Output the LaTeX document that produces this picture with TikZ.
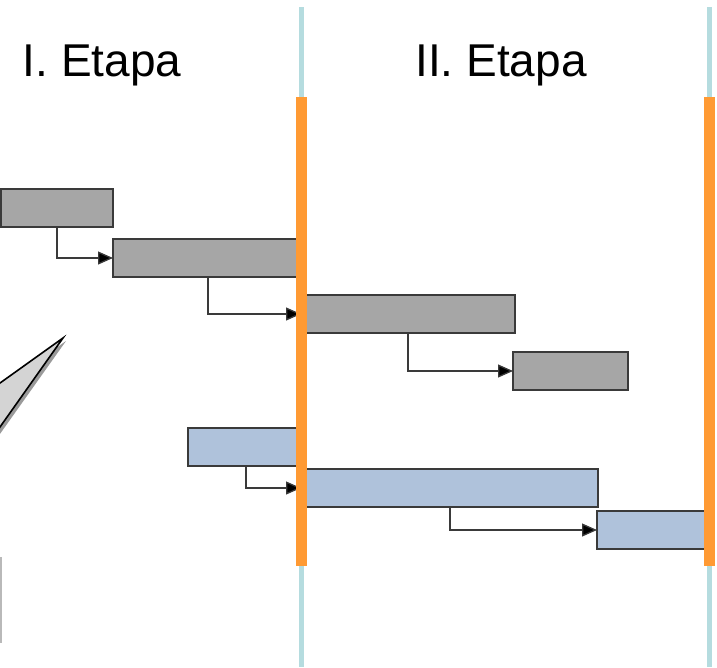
\documentclass[tikz,border=0pt]{standalone}
\usepackage{fontspec}
\setmainfont{Liberation Sans}
\usetikzlibrary{arrows.meta}
\definecolor{barGray}{HTML}{A6A6A6}
\definecolor{barBlue}{HTML}{AFC2DB}
\definecolor{edgeDark}{HTML}{3A3A3A}
\definecolor{stageLine}{HTML}{B5DCDF}
\definecolor{milestone}{HTML}{FF9A33}
\definecolor{callFill}{HTML}{D4D4D4}
\definecolor{callShadow}{HTML}{9A9A9A}
\begin{document}
\begin{tikzpicture}[x=1pt,y=-1pt,
  task/.style={draw=edgeDark, line width=1.6pt, inner sep=0pt, outer sep=0pt,
    anchor=north west, minimum height=38pt},
  graytask/.style={task, fill=barGray},
  bluetask/.style={task, fill=barBlue},
  link/.style={draw=edgeDark, line width=1.3pt,
    -{Triangle[length=15pt,width=13pt,fill=black]}},
  stage/.style={font=\fontsize{46}{55}\selectfont, anchor=base, inner sep=0pt},
  divider/.style={stageLine, line width=5pt},
  gate/.style={fill=milestone}]
\useasboundingbox (0,0) rectangle (717,667);

% stage dividers
\draw[divider] (301.5,7) -- (301.5,667);
\draw[divider] (709.5,7) -- (709.5,667);

% stage titles
\node[stage] (t1) at (102,76) {I. Etapa};
\node[stage] (t2) at (501,76) {II. Etapa};

% callout pointer entering from the left
\begin{scope}
  \clip (0,0) rectangle (717,667);
  \fill[callShadow] (-37,414) -- (66,341) -- (-37,486) -- cycle;
  \filldraw[fill=callFill, draw=black, line width=1.6pt, line join=miter]
    (-40,411.6) -- (63,338) -- (-40,483.5);
\end{scope}
\draw[gray!55, line width=1.5pt] (0.8,557) -- (0.8,643);

% first chain of tasks
\node[graytask, minimum width=112pt] (g1) at (1,189) {};
\node[graytask, minimum width=188pt] (g2) at (113,239) {};
\node[graytask, minimum width=214pt] (g3) at (301,295) {};
\node[graytask, minimum width=115pt] (g4) at (513,352) {};

% second chain of tasks
\node[bluetask, minimum width=113pt] (b1) at (188,428) {};
\node[bluetask, minimum width=297pt] (b2) at (301,469) {};
\node[bluetask, minimum width=109pt] (b3) at (597,511) {};

% dependencies
\draw[link] ([xshift=56pt]g1.south west) |- (g2.west);
\draw[link] ([xshift=95pt]g2.south west) |- (g3.west);
\draw[link] ([xshift=107pt]g3.south west) |- (g4.west);
\draw[link] ([xshift=58pt]b1.south west) |- (b2.west);
\draw[link] ([xshift=149pt]b2.south west) |- (b3.west);

% milestone bars
\fill[gate] (296,97) rectangle (306.5,566);
\fill[gate] (704,97) rectangle (714.5,566);
\end{tikzpicture}
\end{document}
